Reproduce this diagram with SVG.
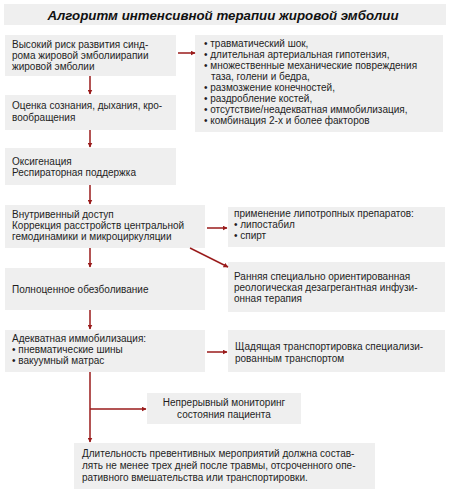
<svg xmlns="http://www.w3.org/2000/svg" width="450" height="493" viewBox="0 0 450 493">
<style>
.box{fill:#efefef;}
.t{font-family:"Liberation Sans",Arial,sans-serif;font-size:10px;fill:#1e1e1e;}
.title{font-family:"Liberation Sans",Arial,sans-serif;font-size:13.3px;font-weight:bold;font-style:italic;fill:#111;}
.c{stroke:#9a1b1b;stroke-width:1.5;fill:none;}
</style>
<defs>
<marker id="ah" viewBox="0 0 10 10" refX="9" refY="5" markerWidth="5" markerHeight="5" orient="auto" markerUnits="userSpaceOnUse">
<path d="M0,0 L10,5 L0,10 z" fill="#9a1b1b"/>
</marker>
</defs>
<rect width="450" height="493" fill="#fff"/>
<g id="title">
<rect class="box" x="4" y="4" width="442" height="21"/>
<text class="title" x="223" y="20" text-anchor="middle">Алгоритм интенсивной терапии жировой эмболии</text>
</g>
<g id="n1">
<rect class="box" x="5" y="35" width="171" height="41"/>
<text class="t" x="12" y="48">Высокий риск развития синд-</text>
<text class="t" x="12" y="59">рома жировой эмболиирапии</text>
<text class="t" x="12" y="70">жировой эмболии</text>
</g>
<g id="n2">
<rect class="box" x="195" y="35" width="248" height="97"/>
<text class="t" x="204" y="47">• травматический шок,</text>
<text class="t" x="204" y="58">• длительная артериальная гипотензия,</text>
<text class="t" x="204" y="69">• множественные механические повреждения</text>
<text class="t" x="211" y="80">таза, голени и бедра,</text>
<text class="t" x="204" y="91">• размозжение конечностей,</text>
<text class="t" x="204" y="102">• раздробление костей,</text>
<text class="t" x="204" y="113">• отсутствие/неадекватная иммобилизация,</text>
<text class="t" x="204" y="124">• комбинация 2-х и более факторов</text>
</g>
<g id="n3">
<rect class="box" x="5" y="95" width="171" height="35"/>
<text class="t" x="12" y="109">Оценка сознания, дыхания, кро-</text>
<text class="t" x="12" y="121">вообращения</text>
</g>
<g id="n4">
<rect class="box" x="5" y="148" width="171" height="37"/>
<text class="t" x="12" y="165">Оксигенация</text>
<text class="t" x="12" y="176">Респираторная поддержка</text>
</g>
<g id="n5">
<rect class="box" x="5" y="205" width="200" height="43"/>
<text class="t" x="12" y="218">Внутривенный доступ</text>
<text class="t" x="12" y="229">Коррекция расстройств центральной</text>
<text class="t" x="12" y="240">гемодинамики и микроциркуляции</text>
</g>
<g id="n6">
<rect class="box" x="228" y="207" width="217" height="40"/>
<text class="t" x="234" y="217">применение липотропных препаратов:</text>
<text class="t" x="234" y="228">• липостабил</text>
<text class="t" x="234" y="239">• спирт</text>
</g>
<g id="n7">
<rect class="box" x="228" y="262" width="217" height="50"/>
<text class="t" x="234" y="280">Ранняя специально ориентированная</text>
<text class="t" x="234" y="291">реологическая дезагрегантная инфузи-</text>
<text class="t" x="234" y="302">онная терапия</text>
</g>
<g id="n8">
<rect class="box" x="5" y="268" width="200" height="42"/>
<text class="t" x="12" y="293">Полноценное обезболивание</text>
</g>
<g id="n9">
<rect class="box" x="5" y="330" width="200" height="42"/>
<text class="t" x="12" y="342">Адекватная иммобилизация:</text>
<text class="t" x="12" y="353">• пневматические шины</text>
<text class="t" x="12" y="364">• вакуумный матрас</text>
</g>
<g id="n10">
<rect class="box" x="228" y="330" width="217" height="42"/>
<text class="t" x="235" y="350">Щадящая транспортировка специализи-</text>
<text class="t" x="235" y="362">рованным транспортом</text>
</g>
<g id="n11">
<rect class="box" x="147" y="393" width="154" height="31"/>
<text class="t" x="224" y="406" text-anchor="middle">Непрерывный мониторинг</text>
<text class="t" x="224" y="418" text-anchor="middle">состояния пациента</text>
</g>
<g id="n12">
<rect class="box" x="74" y="443" width="301" height="46"/>
<text class="t" x="82" y="457">Длительность превентивных мероприятий должна состав-</text>
<text class="t" x="82" y="469">лять не менее трех дней после травмы, отсроченного опе-</text>
<text class="t" x="82" y="481">ративного вмешательства или транспортировки.</text>
</g>
<g id="connectors">
<line class="c" x1="178" y1="53" x2="195" y2="53" marker-end="url(#ah)"/>
<line class="c" x1="90" y1="76" x2="90" y2="94" marker-end="url(#ah)"/>
<line class="c" x1="90" y1="130" x2="90" y2="147" marker-end="url(#ah)"/>
<line class="c" x1="90" y1="185" x2="90" y2="204" marker-end="url(#ah)"/>
<line class="c" x1="207" y1="228" x2="227" y2="228" marker-end="url(#ah)"/>
<line class="c" x1="190" y1="248" x2="228" y2="267" marker-end="url(#ah)"/>
<line class="c" x1="90" y1="248" x2="90" y2="267" marker-end="url(#ah)"/>
<line class="c" x1="90" y1="310" x2="90" y2="329" marker-end="url(#ah)"/>
<line class="c" x1="207" y1="352" x2="227" y2="352" marker-end="url(#ah)"/>
<line class="c" x1="90" y1="372" x2="90" y2="442" marker-end="url(#ah)"/>
<line class="c" x1="90" y1="409" x2="146" y2="409" marker-end="url(#ah)"/>
</g>
</svg>
